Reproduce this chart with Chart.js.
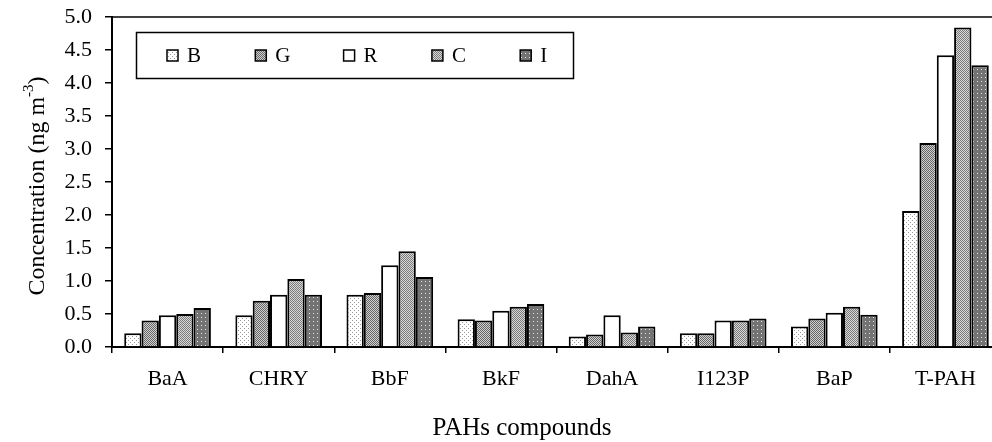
<!DOCTYPE html>
<html>
<head>
<meta charset="utf-8">
<script src="https://cdn.jsdelivr.net/npm/chart.js@4/dist/chart.umd.min.js"></script>
<style>
  html, body { margin: 0; padding: 0; background: #fff; overflow: hidden; }
  #wrap { width: 992px; height: 442px; overflow: hidden; }
</style>
</head>
<body>
<div id="wrap"><canvas id="chart" width="1001" height="442"></canvas></div>
<script>
// categories and series
const compounds = ["BaA", "CHRY", "BbF", "BkF", "DahA", "I123P", "BaP", "T-PAH"];
const seriesNames = ["B", "G", "R", "C", "I"];
const valB = [0.21, 0.48, 0.79, 0.42, 0.16, 0.21, 0.31, 2.06];
const valG = [0.40, 0.70, 0.82, 0.40, 0.19, 0.21, 0.43, 3.09];
const valR = [0.48, 0.79, 1.24, 0.55, 0.48, 0.40, 0.52, 4.42];
const valC = [0.50, 1.03, 1.45, 0.61, 0.22, 0.40, 0.61, 4.84];
const valI = [0.59, 0.79, 1.06, 0.65, 0.31, 0.43, 0.49, 4.27];
const yTitle = "Concentration (ng m";
const yTitleSup = "-3";
const xTitle = "PAHs compounds";

const FONT = "'Liberation Serif', 'Times New Roman', serif";
const canvas = document.getElementById("chart");
const ctx = canvas.getContext("2d");

// little fill textures like the old excel hatching
function makePattern(bg, dot, size, pts) {
    const c = document.createElement("canvas");
    c.width = size; c.height = size;
    const g = c.getContext("2d");
    g.fillStyle = bg;
    g.fillRect(0, 0, size, size);
    g.fillStyle = dot;
    pts.forEach(p => g.fillRect(p[0], p[1], 1, 1));
    return ctx.createPattern(c, "repeat");
}

const fills = [
    makePattern("#ffffff", "#9a9a9a", 4, [[0, 0], [2, 2]]),
    makePattern("#d0d0d0", "#666666", 2, [[0, 0], [1, 1]]),
    "#ffffff",
    makePattern("#d8d8d8", "#7a7a7a", 2, [[0, 0], [1, 1]]),
    makePattern("#737373", "#e8e8e8", 4, [[1, 1]])
];
const allValues = [valB, valG, valR, valC, valI];

const datasets = seriesNames.map((name, i) => ({
    label: name,
    data: allValues[i],
    backgroundColor: fills[i],
    borderColor: "#000",
    borderWidth: 2,
    borderSkipped: "bottom",
    categoryPercentage: 0.78,
    barPercentage: 1.0
}));

// frame line on top, boxed legend, axis titles (with superscript)
const decorations = {
    id: "decorations",
    afterDraw(chart) {
        const c = chart.ctx;
        const a = chart.chartArea;
        c.save();
        c.strokeStyle = "#000";
        c.lineWidth = 1.5;
        c.beginPath();
        c.moveTo(a.left, a.top);
        c.lineTo(a.right, a.top);
        c.stroke();

        // legend box
        c.lineWidth = 1.5;
        c.strokeRect(136.5, 32.5, 437, 46);
        c.font = "21px " + FONT;
        c.textBaseline = "middle";
        c.textAlign = "left";
        chart.data.datasets.forEach((ds, i) => {
            const x = 167 + i * 88.3;
            const y = 55;
            c.fillStyle = ds.backgroundColor;
            c.fillRect(x, y - 5, 11, 11);
            c.lineWidth = 1.5;
            c.strokeRect(x, y - 5, 11, 11);
            c.fillStyle = "#000";
            c.fillText(ds.label, x + 20, y + 1);
        });

        // y title
        c.save();
        c.translate(36, 186);
        c.rotate(-Math.PI / 2);
        c.font = "24px " + FONT;
        const w1 = c.measureText(yTitle).width;
        c.font = "15px " + FONT;
        const w2 = c.measureText(yTitleSup).width;
        c.font = "24px " + FONT;
        const w3 = c.measureText(")").width;
        const start = -(w1 + w2 + w3) / 2;
        c.textAlign = "left";
        c.textBaseline = "alphabetic";
        c.fillText(yTitle, start, 8);
        c.font = "15px " + FONT;
        c.fillText(yTitleSup, start + w1, -3);
        c.font = "24px " + FONT;
        c.fillText(")", start + w1 + w2, 8);
        c.restore();

        // x title
        c.font = "25px " + FONT;
        c.textAlign = "center";
        c.textBaseline = "middle";
        c.fillStyle = "#000";
        c.fillText(xTitle, 522, 428);
        c.restore();
    }
};

new Chart(canvas, {
    type: "bar",
    data: { labels: compounds, datasets: datasets },
    options: {
        responsive: false,
        animation: false,
        devicePixelRatio: 1,
        layout: { padding: { top: 17, right: 0, left: 0, bottom: 0 } },
        plugins: {
            legend: { display: false },
            tooltip: { enabled: false }
        },
        scales: {
            x: {
                offset: true,
                grid: {
                    offset: true,
                    drawOnChartArea: false,
                    drawTicks: true,
                    tickLength: 6,
                    color: "#000",
                    lineWidth: 1.5
                },
                border: { display: true, color: "#000", width: 2 },
                ticks: {
                    color: "#000",
                    font: { family: FONT, size: 22 },
                    padding: 13,
                    maxRotation: 0
                },
                afterFit(scale) {
                    scale.height = 95;
                    scale.paddingLeft = 0;
                    scale.paddingRight = 0;
                }
            },
            y: {
                min: 0,
                max: 5,
                grid: {
                    drawOnChartArea: false,
                    drawTicks: true,
                    tickLength: 7,
                    color: "#000",
                    lineWidth: 1.5
                },
                border: { display: true, color: "#000", width: 2 },
                ticks: {
                    stepSize: 0.5,
                    color: "#000",
                    font: { family: FONT, size: 22 },
                    padding: 13,
                    callback: v => Number(v).toFixed(1)
                },
                afterFit(scale) {
                    scale.width = 112;
                    scale.paddingTop = 0;
                    scale.paddingBottom = 0;
                }
            }
        }
    },
    plugins: [decorations]
});
</script>
</body>
</html>
